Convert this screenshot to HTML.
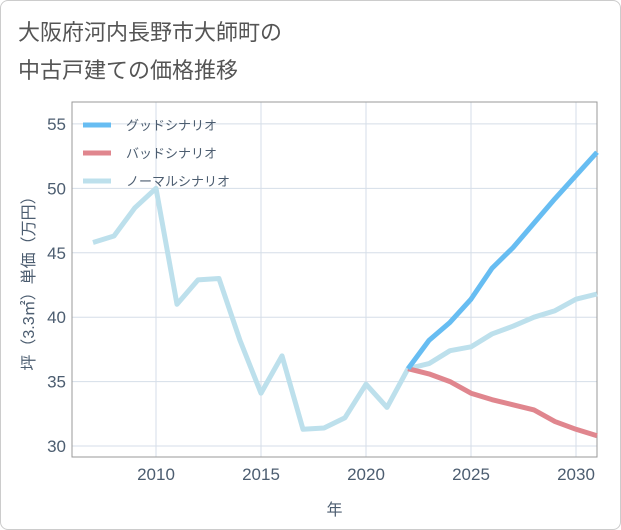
<!DOCTYPE html>
<html><head><meta charset="utf-8"><style>
body{margin:0;background:#fff;font-family:"Liberation Sans","Noto Sans CJK JP",sans-serif;}
#card{position:absolute;left:0;top:0;width:619px;height:528px;border:1px solid #ccc;border-radius:8px;background:#fff;}
</style></head><body>
<div id="card">
<svg width="621" height="530" style="position:absolute;left:-1px;top:-1px" id="chart">
<text x="18" y="40" font-size="22" fill="#555">大阪府河内長野市大師町の</text>
<text x="18" y="78" font-size="22" fill="#555">中古戸建ての価格推移</text>
<g id="grid"></g><g id="axes"></g><g id="series"></g><g id="legend"></g>
</svg></div>
<script>
const years=[2007,2008,2009,2010,2011,2012,2013,2014,2015,2016,2017,2018,2019,2020,2021,2022,2023,2024,2025,2026,2027,2028,2029,2030,2031];
const normal=[45.8,46.3,48.5,50.0,41.0,42.9,43.0,38.2,34.1,37.0,31.3,31.4,32.2,34.8,33.0,36.0,36.4,37.4,37.7,38.7,39.3,40.0,40.5,41.4,41.8];
const fYears=[2022,2023,2024,2025,2026,2027,2028,2029,2030,2031];
const good=[36.0,38.2,39.6,41.4,43.8,45.4,47.3,49.2,51.0,52.8];
const bad=[36.0,35.6,35.0,34.1,33.6,33.2,32.8,31.9,31.3,30.8];
const xTicks=[2010,2015,2020,2025,2030];
const yTicks=[30,35,40,45,50,55];
const L=72,R=597,T=102,B=457,x0=2006,x1=2031,y0=29.15,y1=56.7;
const X=v=>L+(v-x0)/(x1-x0)*(R-L), Y=v=>B-(v-y0)/(y1-y0)*(B-T);
const NS="http://www.w3.org/2000/svg";
const TC='#4c5d70';
function mk(p,t,a){const e=document.createElementNS(NS,t);for(const k in a)e.setAttribute(k,a[k]);p.appendChild(e);return e;}
const g=document.getElementById('grid'),ax=document.getElementById('axes'),s=document.getElementById('series'),lg=document.getElementById('legend');
xTicks.forEach(v=>{const l=mk(g,'line',{x1:X(v),x2:X(v),y1:T,y2:B,stroke:'#d5dee8','stroke-width':1});

const t=mk(ax,'text',{x:X(v),y:B+23,'text-anchor':'middle','font-size':17,fill:TC});t.textContent=v;
});
yTicks.forEach(v=>{const l=mk(g,'line',{x1:L,x2:R,y1:Y(v),y2:Y(v),stroke:'#d5dee8','stroke-width':1});

const t=mk(ax,'text',{x:L-6,y:Y(v)+6,'text-anchor':'end','font-size':17,fill:TC});t.textContent=v;
});
const fr=mk(ax,'rect',{x:L,y:T,width:R-L,height:B-T,fill:'none',stroke:'#999','stroke-width':1});

const xt=mk(ax,'text',{x:(L+R)/2,y:515,'text-anchor':'middle','font-size':16,fill:TC});xt.textContent='年';

const yt=mk(ax,'text',{x:0,y:0,'text-anchor':'middle','font-size':16,fill:TC,transform:`translate(34,${(T+B)/2}) rotate(-90)`});yt.textContent='坪（3.3㎡）単価（万円）';

function line(xs,ys,c,n){const p=mk(s,'polyline',{points:xs.map((v,i)=>X(v)+','+Y(ys[i])).join(' '),fill:'none',stroke:c,'stroke-width':5,'stroke-linejoin':'round'});
}
line(years,normal,'#bde0ec','normal-scenario-line');
line(fYears,bad,'#e0868e','bad-scenario-line');
line(fYears,good,'#67bdf2','good-scenario-line');
[['グッドシナリオ','#67bdf2'],['バッドシナリオ','#e0868e'],['ノーマルシナリオ','#bde0ec']].forEach((d,i)=>{
const y=125+i*28;
const l=mk(lg,'line',{x1:83,x2:111,y1:y,y2:y,stroke:d[1],'stroke-width':5});

const t=mk(lg,'text',{x:126,y:y+5,'font-size':13,fill:TC});t.textContent=d[0];
});
</script></body></html>
